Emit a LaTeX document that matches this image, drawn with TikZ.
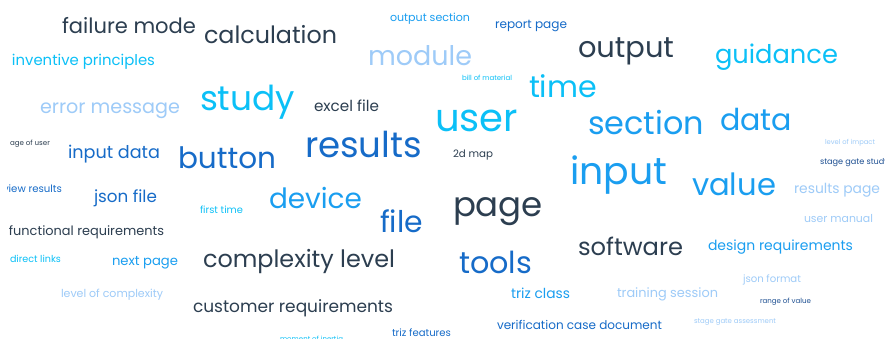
\documentclass[tikz,border=0pt]{standalone}
\usepackage{fontspec}
\setmainfont{Poppins}
\definecolor{slate}{HTML}{2C3E50}
\definecolor{navy}{HTML}{1C4E91}
\definecolor{cyanword}{HTML}{0BC0F7}
\definecolor{azure}{HTML}{1A9EF0}
\definecolor{midblue}{HTML}{166BC8}
\definecolor{paleblue}{HTML}{9ECBF8}
% set a word at the font size that gives it the requested width (pt)
\newbox\cwbox
\newcommand\fitword[2]{%
  \setbox\cwbox\hbox{\fontsize{10pt}{12pt}\selectfont #2}%
  \pgfmathsetmacro\cwsize{10*#1/\wd\cwbox}%
  \fontsize{\cwsize pt}{\cwsize pt}\selectfont #2}
\begin{document}
\begin{tikzpicture}[x=1pt,y=-1pt,
  word/.style={inner sep=0pt,outer sep=0pt,anchor=base west}]
\useasboundingbox (0,0) rectangle (885,338);
\fill[white] (0,0) rectangle (885,338);
\begin{scope}
\clip (7.5,0) rectangle (885,338);
% slate words
\node[word,text=slate] (failuremode) at (62,33) {\fitword{134}{failure mode}};
\node[word,text=slate] (calculation) at (204,43) {\fitword{133}{calculation}};
\node[word,text=slate] (output) at (578,57) {\fitword{96}{output}};
\node[word,text=slate] (excelfile) at (314,111) {\fitword{65}{excel file}};
\node[word,text=slate] (ageofuser) at (10,145) {\fitword{40}{age of user}};
\node[word,text=slate] (twodmap) at (453,157) {\fitword{40}{2d map}};
\node[word,text=slate] (page) at (453,216) {\fitword{90}{page}};
\node[word,text=slate] (functional) at (9,235) {\fitword{155}{functional requirements}};
\node[word,text=slate] (complexity) at (203,267) {\fitword{192}{complexity level}};
\node[word,text=slate] (software) at (578,255) {\fitword{105}{software}};
\node[word,text=slate] (customer) at (193,312) {\fitword{200}{customer requirements}};
% navy words
\node[word,text=navy] (rangeofvalue) at (760,303) {\fitword{51}{range of value}};
\node[word,text=navy] (stagegatestudy) at (820,164) {\fitword{69}{stage gate study}};
% cyan words
\node[word,text=cyanword] (inventive) at (12,65) {\fitword{143}{inventive principles}};
\node[word,text=cyanword] (study) at (200,110) {\fitword{95}{study}};
\node[word,text=cyanword] (billofmaterial) at (462,80) {\fitword{50}{bill of material}};
\node[word,text=cyanword] (time) at (529,97) {\fitword{68}{time}};
\node[word,text=cyanword] (user) at (435,131) {\fitword{83}{user}};
\node[word,text=cyanword] (guidance) at (715,63) {\fitword{123}{guidance}};
\node[word,text=cyanword] (firsttime) at (200,213) {\fitword{43}{first time}};
\node[word,text=cyanword] (directlinks) at (10,262) {\fitword{51}{direct links}};
\node[word,text=cyanword] (momentofinertia) at (280,341) {\fitword{63}{moment of inertia}};
% azure words
\node[word,text=azure] (outputsection) at (390,21) {\fitword{80}{output section}};
\node[word,text=azure] (section) at (588,134) {\fitword{116}{section}};
\node[word,text=azure] (data) at (720,130) {\fitword{72}{data}};
\node[word,text=azure] (input) at (570,184) {\fitword{97}{input}};
\node[word,text=azure] (value) at (692,195) {\fitword{84}{value}};
\node[word,text=azure] (device) at (269,208) {\fitword{93}{device}};
\node[word,text=azure] (nextpage) at (112,265) {\fitword{66}{next page}};
\node[word,text=azure] (designreq) at (708,250) {\fitword{145}{design requirements}};
\node[word,text=azure] (trizclass) at (511,298) {\fitword{59}{triz class}};
% mid-blue words
\node[word,text=midblue] (reportpage) at (495,28) {\fitword{72}{report page}};
\node[word,text=midblue] (inputdata) at (68,158) {\fitword{92}{input data}};
\node[word,text=midblue] (button) at (178,168) {\fitword{98}{button}};
\node[word,text=midblue] (results) at (305,157) {\fitword{117}{results}};
\node[word,text=midblue] (viewresults) at (3,192) {\fitword{59}{view results}};
\node[word,text=midblue] (jsonfile) at (94,202) {\fitword{63}{json file}};
\node[word,text=midblue] (file) at (380,232) {\fitword{43}{file}};
\node[word,text=midblue] (tools) at (459,273) {\fitword{73}{tools}};
\node[word,text=midblue] (verification) at (497,329) {\fitword{165}{verification case document}};
\node[word,text=midblue] (trizfeatures) at (392,336) {\fitword{59}{triz features}};
% pale-blue words
\node[word,text=paleblue] (module) at (368,65) {\fitword{104}{module}};
\node[word,text=paleblue] (errormessage) at (40,113) {\fitword{140}{error message}};
\node[word,text=paleblue] (levelofimpact) at (825,144) {\fitword{50}{level of impact}};
\node[word,text=paleblue] (resultspage) at (794,193) {\fitword{86}{results page}};
\node[word,text=paleblue] (usermanual) at (804,222) {\fitword{69}{user manual}};
\node[word,text=paleblue] (jsonformat) at (743,282) {\fitword{58}{json format}};
\node[word,text=paleblue] (trainingsession) at (617,297) {\fitword{101}{training session}};
\node[word,text=paleblue] (levelofcomplexity) at (61,297) {\fitword{102}{level of complexity}};
\node[word,text=paleblue] (stagegateassessment) at (694,323) {\fitword{82}{stage gate assessment}};
\end{scope}
\end{tikzpicture}
\end{document}
